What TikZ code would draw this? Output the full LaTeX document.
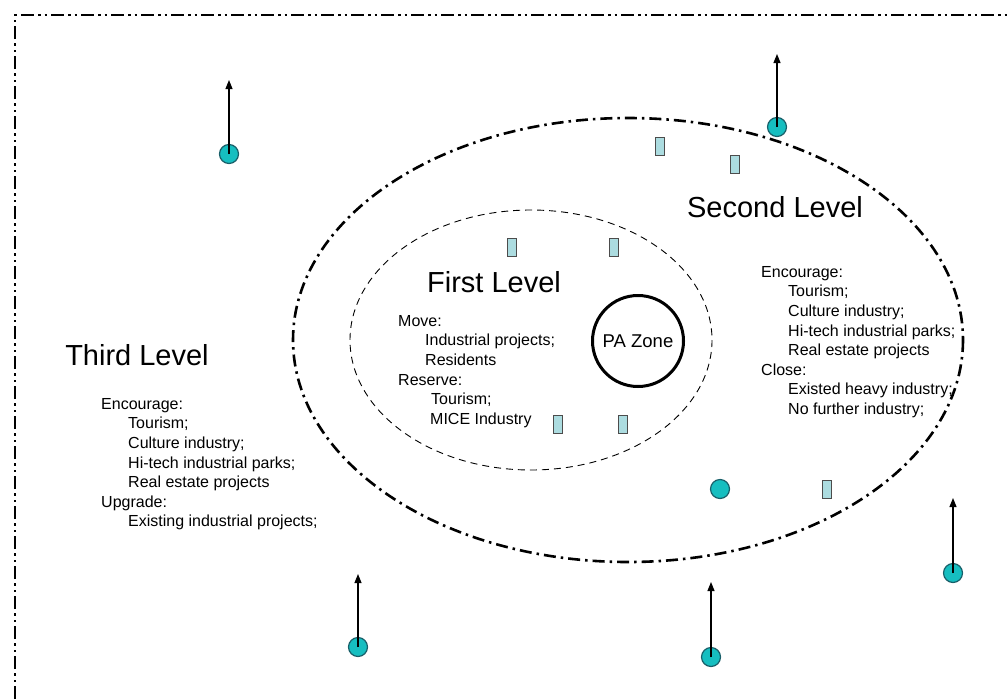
\documentclass[tikz,border=0pt]{standalone}
\usepackage{fontspec}
\setmainfont{Liberation Sans}
\usetikzlibrary{arrows.meta, positioning}

\definecolor{siteteal}{RGB}{22,190,192}
\definecolor{siteedge}{RGB}{25,95,105}
\definecolor{plotblue}{RGB}{172,220,224}

\tikzset{
  site/.style={circle, draw=siteedge, fill=siteteal, line width=1.2pt, minimum size=19pt, inner sep=0pt},
  plot/.style={rectangle, draw=black!70, fill=plotblue, line width=0.8pt, minimum width=9pt, minimum height=18pt, inner sep=0pt},
  move/.style={-{Triangle[length=9pt,width=7pt]}, line width=1.1pt},
  level/.style={font=\fontsize{29}{34}\selectfont, inner sep=0pt},
  policy/.style={align=left, inner sep=0pt, anchor=north west, font=\fontsize{16}{19.6}\selectfont},
}
\newcommand{\sub}{\hspace*{27pt}}

\begin{document}
\begin{tikzpicture}[x=1pt, y=-1pt]
    \useasboundingbox (0,0) rectangle (1008,699);

    % Frame of the area
    \draw[line width=2.6pt, dash pattern=on 13pt off 4pt on 2.5pt off 4pt on 2.5pt off 4pt]
        (15,699) -- (15,15) -- (1008,15);

    % Second level ring and first level ring
    \draw[line width=2.6pt, dash pattern=on 12pt off 5pt on 2.5pt off 5pt]
        (628,340) ellipse [x radius=335, y radius=222];
    \draw[line width=0.9pt, dash pattern=on 7pt off 5pt]
        (531,340) ellipse [x radius=181, y radius=130];

    % Core zone
    \node[circle, draw, line width=3pt, minimum size=91pt, inner sep=0pt,
          font=\fontsize{18.5}{22}\selectfont] (pa) at (638,341) {PA Zone};

    % Level titles
    \node[level] (second) at (775,207) {Second Level};
    \node[level] (first) at (494,282) {First Level};
    \node[level] (third) at (137,355) {Third Level};

    % Policies per level
    \node[policy] (firstpol) at (398,315) {Move:\\
        \sub Industrial projects;\\
        \sub Residents\\
        Reserve:\\
        \hspace*{33pt}Tourism;\\
        \hspace*{32pt}MICE Industry};
    \node[policy] (secondpol) at (761,266) {Encourage:\\
        \sub Tourism;\\
        \sub Culture industry;\\
        \sub Hi-tech industrial parks;\\
        \sub Real estate projects\\
        Close:\\
        \sub Existed heavy industry;\\
        \sub No further industry;};
    \node[policy] (thirdpol) at (101,398) {Encourage:\\
        \sub Tourism;\\
        \sub Culture industry;\\
        \sub Hi-tech industrial parks;\\
        \sub Real estate projects\\
        Upgrade:\\
        \sub Existing industrial projects;};

    % Plots
    \node[plot] (p1) at (660,146) {};
    \node[plot] (p2) at (735,164) {};
    \node[plot] (p3) at (512,247) {};
    \node[plot] (p4) at (614,247) {};
    \node[plot] (p5) at (558,424) {};
    \node[plot] (p6) at (623,424) {};
    \node[plot] (p7) at (827,489) {};

    % Sites
    \node[site] (s1) at (229,154) {};
    \node[site] (s2) at (777,127) {};
    \node[site] (s3) at (720,489) {};
    \node[site] (s4) at (953,573) {};
    \node[site] (s5) at (358,647) {};
    \node[site] (s6) at (711,657) {};

    % Relocation arrows
    \coordinate (t1) at (229,80);
    \coordinate (t2) at (777,54);
    \coordinate (t4) at (953,498);
    \coordinate (t5) at (358,574);
    \coordinate (t6) at (711,582);
    \draw[move] (s1.center) -- (t1);
    \draw[move] (s2.center) -- (t2);
    \draw[move] (s4.center) -- (t4);
    \draw[move] (s5.center) -- (t5);
    \draw[move] (s6.center) -- (t6);
\end{tikzpicture}
\end{document}
